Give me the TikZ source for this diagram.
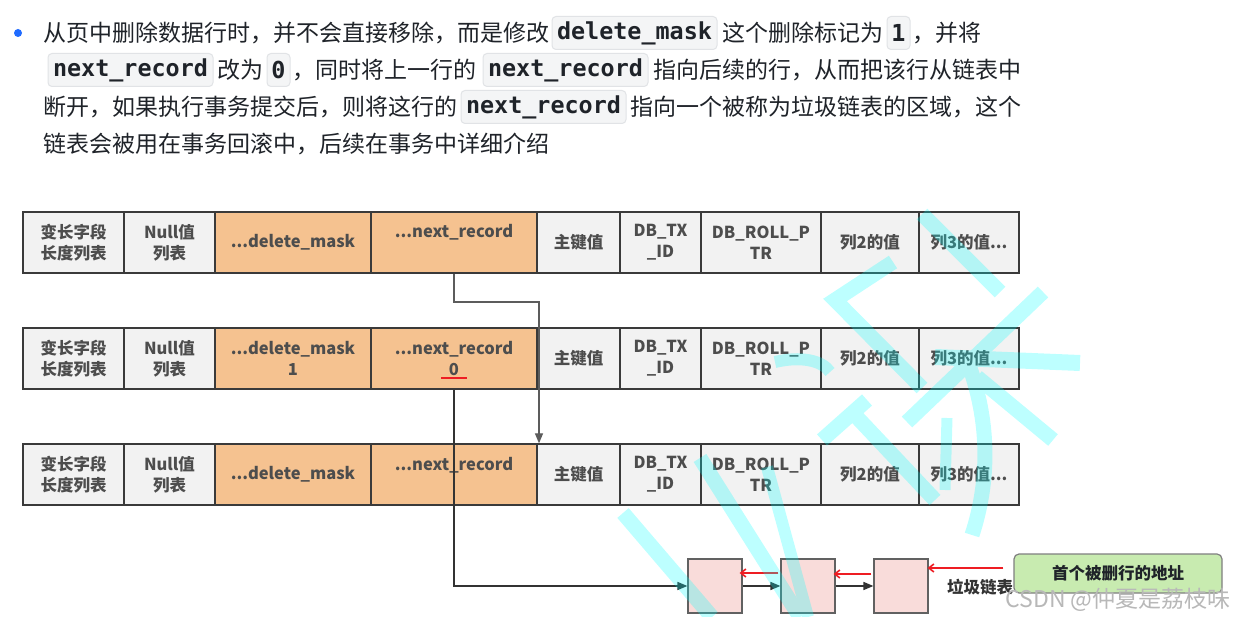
\documentclass[tikz,border=0pt]{standalone}
\usepackage{fontspec}
\setmainfont{Noto Sans CJK SC}
\setmonofont{DejaVu Sans Mono}
\usetikzlibrary{arrows.meta,calc}
\definecolor{bordc}{HTML}{3A3A3A}
\definecolor{grayfill}{HTML}{F2F2F2}
\definecolor{orangefill}{HTML}{F5C290}
\definecolor{dtxt}{HTML}{4D4D4D}
\definecolor{pinkfill}{HTML}{F9DCDA}
\definecolor{greenfill}{HTML}{C8EBB0}
\definecolor{greenbord}{HTML}{7F7F7F}
\definecolor{codefill}{HTML}{F4F5F6}
\definecolor{codebord}{HTML}{E1E3E6}
\definecolor{ptxt}{HTML}{1F2329}
\definecolor{redline}{HTML}{EE1D23}
\definecolor{bullet}{HTML}{1F6BFF}
\definecolor{arrc}{HTML}{333333}
\definecolor{wmcyan}{RGB}{0,255,255}
\begin{document}
\begin{tikzpicture}[x=1pt,y=-1pt,
  ptext/.style={inner sep=0pt, anchor=base west, text=ptxt, font=\fontsize{23}{23}\selectfont},
  codebox/.style={fill=codefill, draw=codebord, line width=1pt, rounded corners=4pt,
    minimum height=33pt, inner sep=0pt, text=ptxt, font=\fontsize{23.4}{23.4}\selectfont\ttfamily\bfseries},
  cell/.style={draw=bordc, line width=1.3pt, minimum height=61pt, inner sep=0pt},
  ctext/.style={inner sep=0pt, align=center, text=dtxt, font=\fontsize{16.5}{21}\selectfont\bfseries},
  smallbox/.style={draw=bordc!80, line width=1.2pt, fill=pinkfill, minimum width=54pt, minimum height=54pt, inner sep=0pt},
  conna/.style={draw=arrc!80, line width=1.3pt, -{Triangle[length=10pt,width=8pt]}},
  connb/.style={draw=arrc, line width=1.5pt, -{Triangle[length=10pt,width=8pt]}},
  redarrow/.style={draw=redline, line width=1.6pt, -{Straight Barb[length=5pt,width=8pt]}},
  wm/.style={draw=wmcyan, line width=15pt}
]
\useasboundingbox (0,0) rectangle (1235,617);
\fill[white] (0,0) rectangle (1235,617);

% ---------- paragraph ----------
\fill[bullet] (18,33) circle (4pt);
\node[ptext] (l1a) at (43,41.5) {从页中删除数据行时，并不会直接移除，而是修改};
\node[codebox, minimum width=165pt] (c1) at (634.5,33) {delete\_mask};
\node[ptext] (l1b) at (722,41.5) {这个删除标记为};
\node[codebox, minimum width=23pt] (c2) at (898.5,33) {1};
\node[ptext] (l1c) at (912,41.5) {，并将};

\node[codebox, minimum width=165pt] (c3) at (130.5,70) {next\_record};
\node[ptext] (l2a) at (217,78.5) {改为};
\node[codebox, minimum width=23pt] (c4) at (278.5,70) {0};
\node[ptext] (l2b) at (292,78.5) {，同时将上一行的};
\node[codebox, minimum width=165pt] (c5) at (565.5,70) {next\_record};
\node[ptext] (l2c) at (653,78.5) {指向后续的行，从而把该行从链表中};

\node[ptext] (l3a) at (43,115.5) {断开，如果执行事务提交后，则将这行的};
\node[codebox, minimum width=165pt] (c6) at (543.5,107) {next\_record};
\node[ptext] (l3b) at (630,115.5) {指向一个被称为垃圾链表的区域，这个};

\node[ptext] (l4a) at (43,152.5) {链表会被用在事务回滚中，后续在事务中详细介绍};

% ---------- record rows ----------
\foreach \r/\cy in {1/242.5, 2/358.5, 3/474.5}{
  \foreach \cx/\w/\fc/\txt [count=\i] in {
     73.5/101/grayfill/{变长字段\\长度列表},
     169.5/91/grayfill/{Null值\\列表},
     293/156/orangefill/{},
     454/166/orangefill/{},
     578.5/83/grayfill/{主键值},
     660.5/81/grayfill/{DB\_TX\\\_ID},
     761/120/grayfill/{DB\_ROLL\_P\\TR},
     870/98/grayfill/{列2的值},
     969/100/grayfill/{列3的值...}}{
    \node[cell, fill=\fc, minimum width=\w pt] (r\r c\i) at (\cx,\cy) {};
    \node[ctext] (t\r c\i) at (r\r c\i.center) {\txt};
  }
}
\node[ctext] (dm1) at (r1c3.center) {...delete\_mask};
\node[ctext] (dm2) at (r2c3.center) {...delete\_mask\\1};
\node[ctext] (dm3) at (r3c3.center) {...delete\_mask};
\node[ctext] (nr1) at (454,232) {...next\_record};
\node[ctext] (nr2) at (r2c4.center) {...next\_record\\0};
\node[ctext] (nr3) at (454,465) {...next\_record};
\draw[redline, line width=1.5pt] (441,378) -- (467,378);

% ---------- garbage list ----------
\node[smallbox] (b1) at (715,586) {};
\node[smallbox] (b2) at (808,586) {};
\node[smallbox] (b3) at (901,586) {};
\node[inner sep=0pt, anchor=west, text=arrc, font=\fontsize{16.5}{16.5}\selectfont\bfseries] (lab) at (947,587) {垃圾链表};
\node[draw=greenbord, line width=1.2pt, fill=greenfill, rounded corners=5pt, minimum width=208pt, minimum height=39pt,
      inner sep=0pt, text=ptxt, font=\fontsize{16.5}{16.5}\selectfont\bfseries] (g) at (1118,573.5) {首个被删行的地址};

% ---------- connectors ----------
\coordinate (k1) at (539,302);
\draw[conna] (r1c4.south) |- (k1) -- (k1 |- r3c5.north);
\coordinate (k2) at (454,586);
\draw[connb] (r2c4.south) -- (k2) -- (b1.west);
\draw[connb] (b1.east) -- (b2.west);
\draw[connb] (b2.east) -- (b3.west);
\draw[redarrow] ([yshift=13pt,xshift=-2pt]b2.west) -- ([yshift=13pt,xshift=-3pt]b1.east);
\draw[redarrow] ([yshift=12pt,xshift=-2pt]b3.west) -- ([yshift=12pt,xshift=-2pt]b2.east);
\draw[redarrow] ([yshift=5.5pt,xshift=-10pt]g.west) -- ([yshift=18pt,xshift=-1pt]b3.east);

% ---------- watermark ----------
\begin{scope}[transparency group, opacity=0.26]
  \draw[wm] (922,214) -- (1000,292);
  \draw[wm] (893,262) -- (835,300) -- (922,388);
  \draw[wm] (1043,292) -- (907,422);
  \draw[wm, line width=12pt] (775,362) .. controls (800,356) and (822,360) .. (830,372);
  \draw[wm, line width=16pt] (935,357) -- (1080,363);
  \draw[wm] (967,360) .. controls (990,420) and (990,480) .. (972,535);
  \draw[wm, line width=11pt] (947,418) -- (945,490);
  \draw[wm] (977,377) -- (1053,440);
  \draw[wm] (867,400) -- (822,440);
  \draw[wm] (853,413) -- (935,500);
  \draw[wm] (623,513) -- (712,617);
  \draw[wm] (700,458) -- (800,617);
  \draw[wm, line width=12pt] (767,467) -- (808,617);
\end{scope}
\node[inner sep=0pt, text=black!28, font=\fontsize{23}{23}\selectfont] (csdn) at (1118,600) {CSDN @仲夏是荔枝味};
\end{tikzpicture}
\end{document}
